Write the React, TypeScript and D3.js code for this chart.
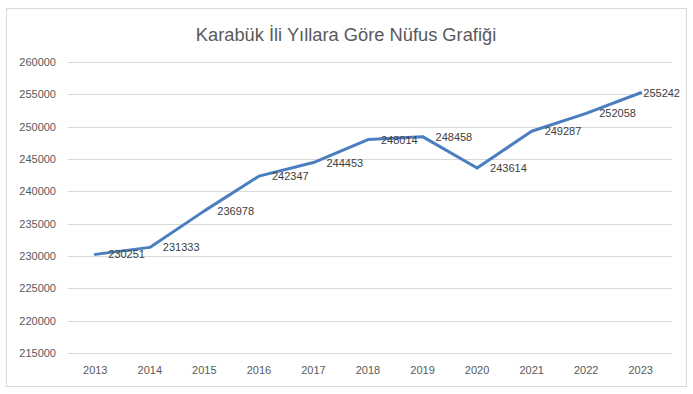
import React from "react";
import * as d3 from "d3";

const years = ["2013", "2014", "2015", "2016", "2017", "2018", "2019", "2020", "2021", "2022", "2023"];
const population = [230251, 231333, 236978, 242347, 244453, 248014, 248458, 243614, 249287, 252058, 255242];
const yTicks = [215000, 220000, 225000, 230000, 235000, 240000, 245000, 250000, 255000, 260000];
const title = "Karabük İli Yıllara Göre Nüfus Grafiği";

export default function App() {
  const W = 693, H = 394;
  const left = 68, right = 668, top = 62, bottom = 353;
  const x = d3.scaleBand<string>().domain(years).range([left, right]);
  const y = d3.scaleLinear().domain([215000, 260000]).range([bottom, top]);
  const cx = (d: string) => (x(d) as number) + x.bandwidth() / 2;
  const line = d3.line<number>().x((_, i) => cx(years[i])).y((v) => y(v));
  const font = "'Liberation Sans', Arial, sans-serif";
  const labelEdge = 680;
  return (
    <svg width={W} height={H} style={{ position: "absolute", left: 0, top: 0, background: "#fff" }}>
      <rect x={6.5} y={8.5} width={680} height={378} fill="#fff" stroke="#D9D9D9" strokeWidth={1} />
      <text x={346} y={41} textAnchor="middle" fontFamily={font} fontSize={18.3} fill="#595959">{title}</text>
      {yTicks.map((t) => (
        <g key={t}>
          <line x1={left} x2={right + 4} y1={Math.round(y(t)) + 0.5} y2={Math.round(y(t)) + 0.5} stroke="#D9D9D9" strokeWidth={1} />
          <text x={56} y={y(t) + 4} textAnchor="end" fontFamily={font} fontSize={11} fill="#595959">{t}</text>
        </g>
      ))}
      {years.map((yr) => (
        <text key={yr} x={cx(yr)} y={374} textAnchor="middle" fontFamily={font} fontSize={11} fill="#595959">{yr}</text>
      ))}
      <path d={line(population) || ""} fill="none" stroke="#4A7EC0" strokeWidth={3} strokeLinejoin="round" strokeLinecap="round" />
      {population.map((v, i) => {
        const lx = cx(years[i]) + 13;
        const overflow = lx + 39 > labelEdge;
        return (
          <text key={i} x={overflow ? labelEdge : lx} y={y(v) + 4} textAnchor={overflow ? "end" : "start"} fontFamily={font} fontSize={11} fill="#404040">{v}</text>
        );
      })}
    </svg>
  );
}
